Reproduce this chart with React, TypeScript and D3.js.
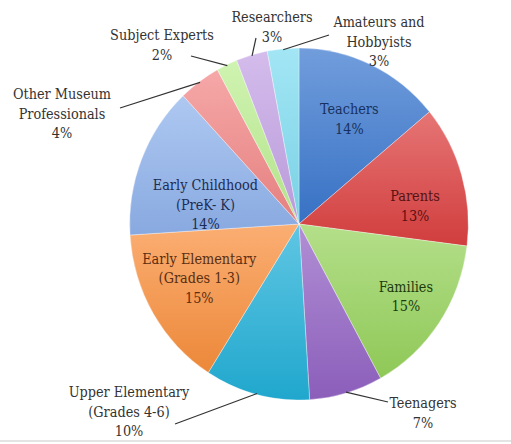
import React from "react";
import * as d3 from "d3";

// audience groups, clockwise from 12 o'clock
const categories = [
  ["Teachers"],
  ["Parents"],
  ["Families"],
  ["Teenagers"],
  ["Upper Elementary", "(Grades 4-6)"],
  ["Early Elementary", "(Grades 1-3)"],
  ["Early Childhood", "(PreK- K)"],
  ["Other Museum", "Professionals"],
  ["Subject Experts"],
  ["Researchers"],
  ["Amateurs and", "Hobbyists"],
];
const values = [14, 13, 15, 7, 10, 15, 14, 4, 2, 3, 3];
const colors = [
  "#3a77cf", "#dc4040", "#97d35c", "#9363c4", "#22b0d8", "#f98f3c",
  "#8fb2ec", "#f28686", "#bdee92", "#c3a2e5", "#7fdcf1",
];
const textColors = [
  "#17315e", "#571212", "#1c3a0e", "#333", "#333", "#5a2e10",
  "#1c2c52", "#333", "#333", "#333", "#333",
];
// which labels sit outside the pie with a leader line
const outside = [false, false, false, true, true, false, false, true, true, true, true];

// inside labels: nudge from the centroid, [dx, dy]
const insideNudge: number[][] = [
  [2, 2], [7, 15], [13, 6], [], [], [-2, -6], [12, 24], [], [], [], [],
];
// outside labels: [text x, text y of first line, leader end x, leader end y]
const labelLayout: number[][] = [
  [], [], [],
  [423, 408, 388, 402],
  [129, 397, 175, 424],
  [], [],
  [62, 99, 120, 108],
  [162, 40, 191, 56],
  [272, 22, 256, 38],
  [379, 27, 329, 35],
];

const W = 511;
const H = 444;
const cx = 299;
const cy = 224;
const R = 176;
const sx = 0.962; // pie is slightly taller than wide

export default function App() {
  const pie = d3.pie<number>().sort(null).value((d) => d).startAngle(0).endAngle(2 * Math.PI);
  const arcs = pie(values);
  const arc = d3.arc<d3.PieArcDatum<number>>().innerRadius(0).outerRadius(R);
  const lineH = 19.5;

  const polar = (a: number, r: number) => [cx + Math.sin(a) * r * sx, cy - Math.cos(a) * r];

  return (
    <svg width={W} height={H} style={{ position: "absolute", left: 0, top: 0, background: "#fff" }}
      fontFamily="'DejaVu Serif Condensed', 'DejaVu Serif', serif" fontSize={14.3}>
      <defs>
        {colors.map((c, i) => (
          <linearGradient key={i} id={"g" + i} x1="0" y1="0" x2="0" y2="1">
            <stop offset="0" stopColor={d3.interpolateRgb(c, "#fff")(0.28)} />
            <stop offset="1" stopColor={d3.color(c)!.darker(0.15).toString()} />
          </linearGradient>
        ))}
      </defs>
      <g transform={`translate(${cx},${cy}) scale(${sx},1)`}>
        {arcs.map((a, i) => (
          <path key={i} d={arc(a)!} fill={`url(#g${i})`} stroke="#fff" strokeOpacity={0.5} strokeWidth={0.7} />
        ))}
      </g>
      {arcs.map((a, i) => {
        const mid = (a.startAngle + a.endAngle) / 2;
        const lines = [...categories[i], values[i] + "%"];
        if (!outside[i]) {
          const [x0, y] = polar(mid, 118);
          const x = x0 + insideNudge[i][0];
          const y0 = y - ((lines.length - 1) * lineH) / 2 + 5 + insideNudge[i][1];
          return (
            <text key={i} x={x} textAnchor="middle" fill={textColors[i]}>
              {lines.map((t, j) => (
                <tspan key={j} x={x} y={y0 + j * lineH}>{t}</tspan>
              ))}
            </text>
          );
        }
        const [tx, ty, lx, ly] = labelLayout[i];
        const [px, py] = polar(mid, R - 1);
        return (
          <g key={i}>
            <line x1={px} y1={py} x2={lx} y2={ly} stroke="#333" strokeWidth={1.2} />
            <text x={tx} textAnchor="middle" fill={textColors[i]}>
              {lines.map((t, j) => (
                <tspan key={j} x={tx} y={ty + j * lineH}>{t}</tspan>
              ))}
            </text>
          </g>
        );
      })}
      <line x1={0} x2={W} y1={441} y2={441} stroke="#e4e4e4" strokeWidth={2} />
    </svg>
  );
}
